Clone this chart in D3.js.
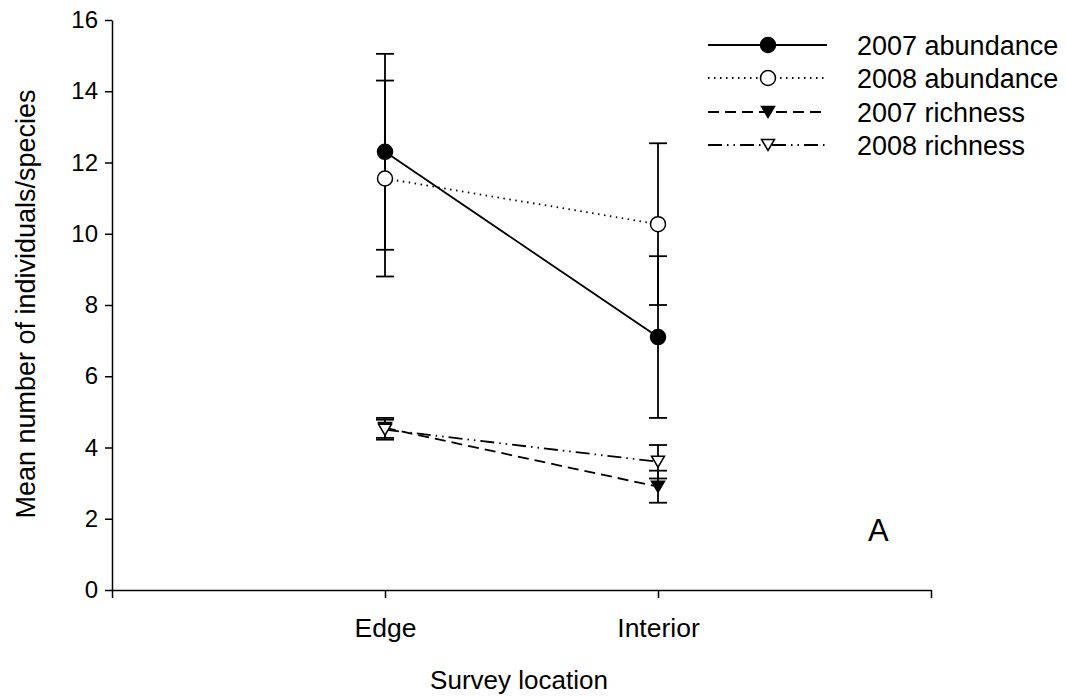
<!DOCTYPE html>
<html>
<head>
<meta charset="utf-8">
<script src="https://cdn.jsdelivr.net/npm/d3@7"></script>
<style>
  body { margin: 0; background: #fff; }
  text { font-family: "Liberation Sans", Arial, sans-serif; fill: #000; }
</style>
</head>
<body>
<script>
  //survey locations sit at positions 1 and 2 on a 0..3 axis
  var locations = ["Edge", "Interior"];
  var yTicks = [0, 2, 4, 6, 8, 10, 12, 14, 16];

  //means and standard errors
  var abund2007 = [12.3, 7.1];
  var abund2007Err = [2.75, 2.27];
  var abund2008 = [11.55, 10.27];
  var abund2008Err = [2.75, 2.27];
  var rich2007 = [4.55, 2.9];
  var rich2007Err = [0.28, 0.45];
  var rich2008 = [4.5, 3.6];
  var rich2008Err = [0.28, 0.47];

  var seriesNames = ["2007 abundance", "2008 abundance", "2007 richness", "2008 richness"];

  var W = 1066, H = 697;
  var plot = { left: 112, right: 931, top: 20, bottom: 590 };

  var series = [
    { name: seriesNames[0], vals: abund2007, err: abund2007Err, marker: "circle", fill: "#000", dash: null },
    { name: seriesNames[1], vals: abund2008, err: abund2008Err, marker: "circle", fill: "#fff", dash: "1.5,4.5" },
    { name: seriesNames[2], vals: rich2007, err: rich2007Err, marker: "tri", fill: "#000", dash: "11,6" },
    { name: seriesNames[3], vals: rich2008, err: rich2008Err, marker: "tri", fill: "#fff", dash: "14,5,1.5,5,1.5,5" }
  ];

  var svg = d3.select("body").append("svg")
    .attr("width", W)
    .attr("height", H);

  var x = d3.scaleLinear().domain([0, 3]).range([plot.left, plot.right]);
  var y = d3.scaleLinear().domain([0, 16]).range([plot.bottom, plot.top]);

  //axes
  var xAxis = d3.axisBottom(x)
    .tickValues([0, 1, 2, 3])
    .tickFormat(function(d){ return locations[d - 1] || ""; })
    .tickSize(8)
    .tickSizeOuter(0)
    .tickPadding(20);
  var yAxis = d3.axisLeft(y)
    .tickValues(yTicks)
    .tickSize(7)
    .tickSizeOuter(0)
    .tickPadding(7);

  var gx = svg.append("g")
    .attr("transform", "translate(0," + plot.bottom + ")")
    .call(xAxis);
  var gy = svg.append("g")
    .attr("transform", "translate(" + plot.left + ",0)")
    .call(yAxis);

  [gx, gy].forEach(function(g){
    g.selectAll("path, line").attr("stroke", "#000").attr("stroke-width", 1.5);
    g.selectAll("text").style("font-size", "24px").attr("fill", "#000");
  });
  gx.selectAll("text").style("font-size", "26.5px");

  //axis titles
  svg.append("text")
    .attr("x", 519)
    .attr("y", 689)
    .attr("text-anchor", "middle")
    .style("font-size", "26px")
    .text("Survey location");
  svg.append("text")
    .attr("transform", "translate(35,304) rotate(-90)")
    .attr("text-anchor", "middle")
    .style("font-size", "27px")
    .text("Mean number of individuals/species");

  var line = d3.line()
    .x(function(d, i){ return x(i + 1); })
    .y(function(d){ return y(d); });

  //connecting lines
  svg.append("g").selectAll("path")
    .data(series)
    .enter().append("path")
    .attr("d", function(s){ return line(s.vals); })
    .attr("fill", "none")
    .attr("stroke", "#000")
    .attr("stroke-width", 1.8)
    .attr("stroke-dasharray", function(s){ return s.dash; });

  //error bars
  var cap = 9;
  series.forEach(function(s){
    var g = svg.append("g").attr("stroke", "#000").attr("stroke-width", 1.8);
    s.vals.forEach(function(v, i){
      var cx = x(i + 1), hi = y(v + s.err[i]), lo = y(v - s.err[i]);
      g.append("line").attr("x1", cx).attr("x2", cx).attr("y1", hi).attr("y2", lo);
      g.append("line").attr("x1", cx - cap).attr("x2", cx + cap).attr("y1", hi).attr("y2", hi);
      g.append("line").attr("x1", cx - cap).attr("x2", cx + cap).attr("y1", lo).attr("y2", lo);
    });
  });

  function drawMarker(g, kind, fill, cx, cy){
    if(kind === "circle"){
      g.append("circle")
        .attr("cx", cx).attr("cy", cy).attr("r", 7.5)
        .attr("fill", fill).attr("stroke", "#000").attr("stroke-width", 1.5);
    }else{
      //downward triangle
      var w = 6.5, h = 11;
      g.append("path")
        .attr("d", "M" + (cx - w) + "," + (cy - h / 2) + "L" + (cx + w) + "," + (cy - h / 2) +
                   "L" + cx + "," + (cy + h / 2) + "Z")
        .attr("fill", fill).attr("stroke", "#000").attr("stroke-width", 1.5);
    }
  }

  //markers
  var gm = svg.append("g");
  series.forEach(function(s){
    s.vals.forEach(function(v, i){
      drawMarker(gm, s.marker, s.fill, x(i + 1), y(v));
    });
  });

  //legend
  var legend = svg.append("g");
  var legY = [45, 78, 112, 145];
  series.forEach(function(s, i){
    var ly = legY[i];
    legend.append("line")
      .attr("x1", 708).attr("x2", 827).attr("y1", ly).attr("y2", ly)
      .attr("stroke", "#000").attr("stroke-width", 1.8)
      .attr("stroke-dasharray", s.dash);
    drawMarker(legend, s.marker, s.fill, 768, ly);
    legend.append("text")
      .attr("x", 857).attr("y", ly + 9.5)
      .style("font-size", "27px")
      .text(s.name);
  });

  //panel letter
  svg.append("text")
    .attr("x", 868).attr("y", 541)
    .style("font-size", "31px")
    .text("A");
</script>
</body>
</html>
